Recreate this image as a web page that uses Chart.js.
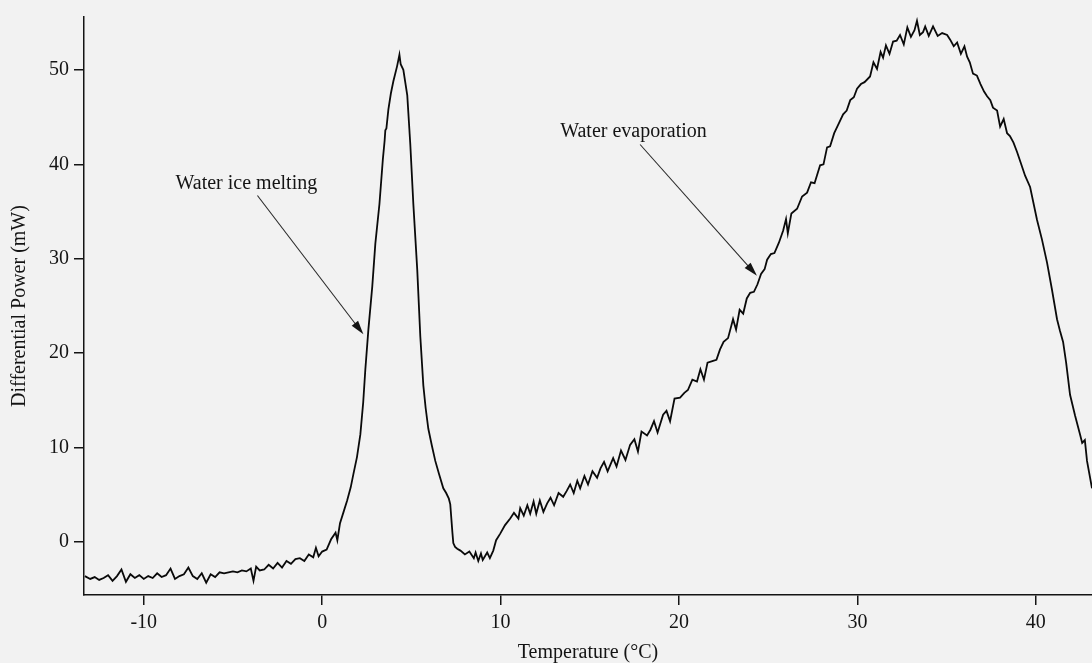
<!DOCTYPE html>
<html>
<head>
<meta charset="utf-8">
<script src="https://cdn.jsdelivr.net/npm/chart.js@4.4.1/dist/chart.umd.min.js"></script>
<style>
  html, body { margin: 0; padding: 0; background: #f2f2f2; }
  #wrap { width: 1092px; height: 663px; position: relative; }
</style>
</head>
<body>
<div id="wrap"><canvas id="dsc"></canvas></div>
<script>
// DSC trace: temperature (°C) and differential power (mW)
const temperature = [
  -13.3, -13.0, -12.75, -12.5, -12.25, -12.0, -11.75, -11.5, -11.25, -11.0,
  -10.75, -10.5, -10.25, -10.0, -9.75, -9.5, -9.25, -9.0, -8.75, -8.5,
  -8.25, -8.0, -7.75, -7.5, -7.25, -7.0, -6.75, -6.5, -6.25, -6.0,
  -5.75, -5.5, -5.25, -5.0, -4.75, -4.5, -4.25, -4.0, -3.85, -3.7,
  -3.5, -3.25, -3.0, -2.75, -2.5, -2.25, -2.0, -1.75, -1.5, -1.25,
  -1.0, -0.75, -0.5, -0.35, -0.2, 0.0, 0.25, 0.5, 0.75, 0.85,
  1.0, 1.2, 1.4, 1.6, 1.75, 1.95, 2.14, 2.3, 2.42, 2.59,
  2.81, 2.98, 3.21, 3.4, 3.5, 3.54, 3.6, 3.71, 3.85, 3.99,
  4.2, 4.33, 4.4, 4.55, 4.77, 4.94, 5.11, 5.33, 5.5, 5.67,
  5.8, 5.95, 6.15, 6.34, 6.55, 6.79, 6.95, 7.1, 7.18, 7.3,
  7.35, 7.45, 7.57, 7.75, 8.0, 8.25, 8.5, 8.6, 8.75, 8.9,
  9.0, 9.25, 9.4, 9.59, 9.75, 9.98, 10.25, 10.54, 10.75, 11.0,
  11.1, 11.3, 11.5, 11.66, 11.85, 12.0, 12.2, 12.4, 12.61, 12.8,
  13.0, 13.25, 13.51, 13.7, 13.9, 14.1, 14.3, 14.46, 14.7, 14.9,
  15.15, 15.41, 15.6, 15.8, 16.0, 16.31, 16.5, 16.75, 17.0, 17.26,
  17.5, 17.7, 17.9, 18.21, 18.4, 18.6, 18.8, 19.11, 19.3, 19.5,
  19.75, 20.06, 20.3, 20.5, 20.75, 21.01, 21.2, 21.4, 21.6, 21.91,
  22.1, 22.3, 22.5, 22.75, 23.03, 23.2, 23.4, 23.6, 23.8, 23.99,
  24.2, 24.4, 24.6, 24.8, 24.94, 25.15, 25.35, 25.6, 25.84, 26.0,
  26.1, 26.3, 26.62, 26.9, 27.18, 27.4, 27.6, 27.91, 28.1, 28.3,
  28.47, 28.7, 28.9, 29.2, 29.4, 29.6, 29.8, 29.98, 30.2, 30.4,
  30.71, 30.9, 31.1, 31.3, 31.44, 31.6, 31.8, 32.0, 32.2, 32.39,
  32.6, 32.8, 33.0, 33.2, 33.34, 33.5, 33.68, 33.8, 34.0, 34.24,
  34.5, 34.75, 35.03, 35.2, 35.4, 35.59, 35.8, 36.0, 36.15, 36.3,
  36.48, 36.7, 36.9, 37.1, 37.27, 37.45, 37.6, 37.83, 38.0, 38.2,
  38.39, 38.55, 38.75, 38.95, 39.15, 39.4, 39.68, 40.07, 40.35, 40.63,
  40.9, 41.19, 41.35, 41.53, 41.7, 41.92, 42.2, 42.48, 42.6, 42.75,
  42.87, 43.15
];
const power = [
  -3.6, -3.9, -3.7, -4.0, -3.8, -3.5, -4.1, -3.6, -2.9, -4.2,
  -3.4, -3.8, -3.5, -3.9, -3.6, -3.8, -3.3, -3.7, -3.5, -2.8,
  -3.9, -3.6, -3.4, -2.7, -3.6, -3.9, -3.3, -4.3, -3.4, -3.7,
  -3.2, -3.3, -3.2, -3.1, -3.2, -3.0, -3.1, -2.8, -4.1, -2.6,
  -3.0, -2.9, -2.4, -2.8, -2.2, -2.7, -2.0, -2.3, -1.8, -1.7,
  -2.0, -1.3, -1.6, -0.6, -1.5, -1.0, -0.8, 0.3, 1.0, 0.2,
  2.0, 3.2, 4.4, 5.8, 7.2, 9.0, 11.4, 14.8, 18.3, 22.5,
  27.1, 31.6, 35.8, 40.5, 42.5, 43.6, 43.8, 45.8, 47.5, 48.8,
  50.4, 51.6, 50.6, 50.0, 47.3, 42.1, 35.8, 28.8, 21.8, 16.6,
  14.2, 12.0, 10.2, 8.6, 7.2, 5.7, 5.2, 4.6, 4.0, 1.0,
  -0.1, -0.5, -0.7, -0.9, -1.3, -1.0, -1.7, -1.1, -2.0, -1.2,
  -1.9, -1.1, -1.7, -0.9, 0.2, 0.9, 1.8, 2.5, 3.1, 2.5,
  3.6, 2.8, 3.9, 3.0, 4.3, 3.0, 4.4, 3.2, 4.1, 4.7,
  3.9, 5.2, 4.8, 5.4, 6.1, 5.2, 6.5, 5.7, 7.0, 6.1,
  7.5, 6.8, 7.8, 8.5, 7.5, 8.9, 8.0, 9.7, 8.7, 10.3,
  10.9, 9.6, 11.7, 11.3, 11.9, 12.8, 11.6, 13.5, 13.9, 12.8,
  15.2, 15.3, 15.8, 16.1, 17.2, 17.0, 18.3, 17.2, 19.0, 19.2,
  19.3, 20.4, 21.2, 21.6, 23.6, 22.5, 24.6, 24.2, 25.8, 26.4,
  26.5, 27.3, 28.4, 28.9, 29.9, 30.5, 30.6, 31.7, 33.0, 34.2,
  32.7, 34.8, 35.3, 36.6, 37.0, 38.1, 38.0, 39.9, 40.0, 41.8,
  41.9, 43.3, 44.1, 45.3, 45.7, 46.8, 47.1, 48.0, 48.5, 48.7,
  49.3, 50.8, 50.1, 51.9, 51.3, 52.6, 51.7, 53.0, 53.1, 53.7,
  52.7, 54.5, 53.5, 54.2, 55.2, 53.7, 54.0, 54.6, 53.6, 54.6,
  53.6, 53.9, 53.7, 53.2, 52.5, 52.9, 51.7, 52.5, 51.4, 50.8,
  49.6, 49.4, 48.5, 47.7, 47.2, 46.8, 46.0, 45.7, 44.0, 44.8,
  43.3, 43.0, 42.3, 41.3, 40.2, 38.8, 37.6, 34.1, 32.0, 29.6,
  26.8, 23.6, 22.4, 21.2, 19.0, 15.6, 13.4, 11.4, 10.5, 10.8,
  8.6, 5.7
];

const xTicks = [-10, 0, 10, 20, 30, 40];
const yTicks = [0, 10, 20, 30, 40, 50];
const xRange = [-13.35, 43.15];
const yRange = [-5.6, 55.6];

// text labels with arrows, in data units: [text, textT, textP, fromT, fromP, toT, toP]
const labels = [
  ['Water ice melting', -8.22, 37.9, -3.63, 36.7, 2.31, 22.0],
  ['Water evaporation', 13.34, 43.5, 17.82, 42.1, 24.37, 28.2]
];

const ink = '#141414';
const serif = 'Liberation Serif, Times New Roman, serif';

const labelPlugin = {
  id: 'arrowLabels',
  afterDatasetsDraw(chart) {
    const ctx = chart.ctx;
    const xs = chart.scales.x, ys = chart.scales.y;
    ctx.save();
    ctx.font = '20px ' + serif;
    ctx.fillStyle = ink;
    ctx.textBaseline = 'middle';
    labels.forEach(l => {
      ctx.fillText(l[0], xs.getPixelForValue(l[1]), ys.getPixelForValue(l[2]));
      const x1 = xs.getPixelForValue(l[3]), y1 = ys.getPixelForValue(l[4]);
      const x2 = xs.getPixelForValue(l[5]), y2 = ys.getPixelForValue(l[6]);
      const a = Math.atan2(y2 - y1, x2 - x1);
      ctx.strokeStyle = '#2a2a2a';
      ctx.lineWidth = 1.1;
      ctx.beginPath();
      ctx.moveTo(x1, y1);
      ctx.lineTo(x2 - 8 * Math.cos(a), y2 - 8 * Math.sin(a));
      ctx.stroke();
      ctx.beginPath();
      ctx.moveTo(x2, y2);
      ctx.lineTo(x2 - 14 * Math.cos(a) + 4 * Math.sin(a), y2 - 14 * Math.sin(a) - 4 * Math.cos(a));
      ctx.lineTo(x2 - 14 * Math.cos(a) - 4 * Math.sin(a), y2 - 14 * Math.sin(a) + 4 * Math.cos(a));
      ctx.closePath();
      ctx.fillStyle = ink;
      ctx.fill();
    });
    ctx.restore();
  }
};

const axisGrid = {
  display: true,
  drawOnChartArea: false,
  drawTicks: true,
  tickLength: 10,
  color: ink,
  lineWidth: 1.5
};

new Chart(document.getElementById('dsc'), {
  type: 'line',
  data: {
    datasets: [{
      data: temperature.map((t, i) => ({ x: t, y: power[i] })),
      borderColor: '#0a0a0a',
      borderWidth: 1.8,
      pointRadius: 0,
      tension: 0,
      fill: false
    }]
  },
  options: {
    responsive: true,
    maintainAspectRatio: false,
    animation: false,
    layout: { padding: { top: 12, right: 0, left: 0, bottom: 0 } },
    plugins: { legend: { display: false }, tooltip: { enabled: false } },
    scales: {
      x: {
        type: 'linear',
        min: xRange[0],
        max: xRange[1],
        afterBuildTicks: s => { s.ticks = xTicks.map(v => ({ value: v })); },
        afterFit: s => { s.height = 68; },
        grid: axisGrid,
        border: { display: true, color: ink, width: 1.5 },
        ticks: { color: ink, font: { family: serif, size: 20 }, padding: 6, maxRotation: 0 },
        title: {
          display: true,
          text: 'Temperature (°C)',
          color: ink,
          font: { family: serif, size: 20, lineHeight: 1 },
          padding: 0
        }
      },
      y: {
        type: 'linear',
        min: yRange[0],
        max: yRange[1],
        afterBuildTicks: s => { s.ticks = yTicks.map(v => ({ value: v })); },
        afterFit: s => { s.width = 84; },
        grid: axisGrid,
        border: { display: true, color: ink, width: 1.5 },
        ticks: { color: ink, font: { family: serif, size: 20 }, padding: 5 },
        title: {
          display: true,
          text: 'Differential Power (mW)',
          color: ink,
          font: { family: serif, size: 20 },
          padding: { top: 8, bottom: 0 }
        }
      }
    }
  },
  plugins: [labelPlugin]
});
</script>
</body>
</html>
